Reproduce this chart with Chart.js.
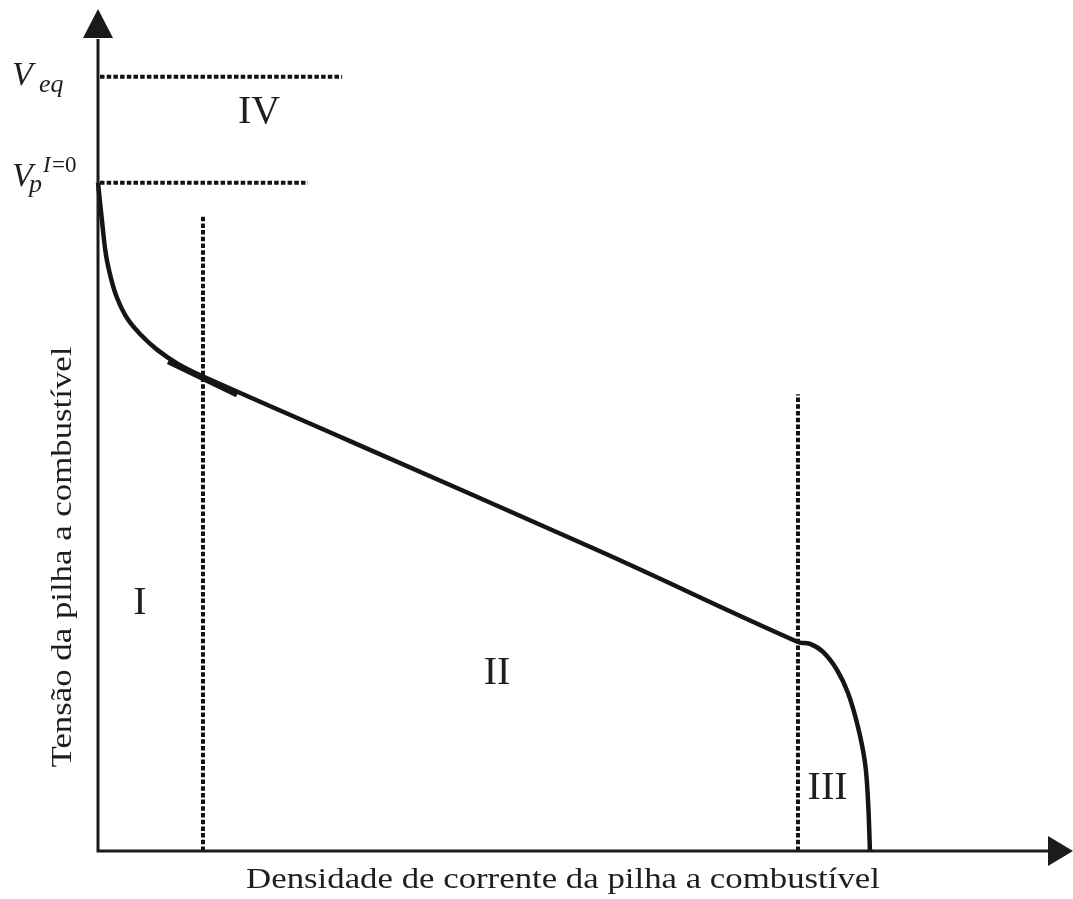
<!DOCTYPE html>
<html lang="pt">
<head>
  <meta charset="UTF-8">
  <title>Curva de polarização</title>
  <script src="https://cdn.jsdelivr.net/npm/chart.js"></script>
  <style>
    html, body {
      margin: 0;
      padding: 0;
      background: #ffffff;
    }
    #wrap {
      width: 1073px;
      height: 899px;
    }
  </style>
</head>
<body>

<div id="wrap">
  <canvas id="polarizacao" width="1073" height="899"></canvas>
</div>

<script>
  // Curva de polarização (unidades arbitrárias, 0-100 em cada eixo)
  const densidade = [0, 0.42, 0.84, 1.37, 2.0, 3.05, 4.53, 6.21, 8.32, 10.84, 26.53, 52.84,
    73.68, 74.95, 76.32, 77.79, 78.95, 80.0, 80.74, 81.05, 81.26];
  const tensao = [82.5, 77.8, 73.6, 70.7, 68.3, 65.8, 63.7, 61.9, 60.2, 58.7, 50.6, 37.0,
    25.8, 25.56, 24.57, 22.35, 19.5, 15.3, 10.86, 6.3, 0];

  // pequeno trecho tangente sobreposto à curva
  const tangenteX = [7.37, 14.63];
  const tangenteY = [60.4, 56.3];

  // níveis de tensão e limites das regiões
  const vEq = 95.6;
  const vPilha = 82.5;
  const limiteI = 11.05;
  const limiteII = 73.68;

  const regioes = ['I', 'II', 'III', 'IV'];
  const regioesX = [4.42, 42.0, 76.8, 16.95];
  const regioesY = [29.3, 20.6, 6.4, 89.9];

  const tituloX = 'Densidade de corrente da pilha a combustível';
  const tituloY = 'Tensão da pilha a combustível';

  const pontos = (xs, ys) => xs.map((x, i) => ({ x: x, y: ys[i] }));

  const tracejado = {
    showLine: true,
    borderColor: '#111111',
    borderWidth: 4,
    borderDash: [4.5, 2.2],
    borderCapStyle: 'butt',
    pointRadius: 0,
    fill: false,
    clip: false
  };

  // texto um pouco mais largo que a fonte serifada normal
  function textoLargo(ctx, txt, x, y, angulo) {
    ctx.save();
    ctx.translate(x, y);
    ctx.rotate(angulo);
    ctx.scale(1.2, 1);
    ctx.fillText(txt, 0, 0);
    ctx.restore();
  }

  // eixos com setas, letras das regiões e rótulos V
  const desenho = {
    id: 'desenho',
    afterDatasetsDraw(chart) {
      const ctx = chart.ctx;
      const a = chart.chartArea;
      const sx = chart.scales.x;
      const sy = chart.scales.y;
      ctx.save();

      // eixos
      ctx.strokeStyle = '#1c1a1a';
      ctx.fillStyle = '#1c1a1a';
      ctx.lineWidth = 3;
      ctx.beginPath();
      ctx.moveTo(a.left, a.top - 2);
      ctx.lineTo(a.left, a.bottom);
      ctx.lineTo(a.right + 2, a.bottom);
      ctx.stroke();

      ctx.beginPath();
      ctx.moveTo(a.left, a.top - 32);
      ctx.lineTo(a.left - 15, a.top - 3);
      ctx.lineTo(a.left + 15, a.top - 3);
      ctx.closePath();
      ctx.fill();

      ctx.beginPath();
      ctx.moveTo(a.right + 25, a.bottom);
      ctx.lineTo(a.right, a.bottom - 15);
      ctx.lineTo(a.right, a.bottom + 15);
      ctx.closePath();
      ctx.fill();

      // regiões I a IV
      ctx.fillStyle = '#1e1e1e';
      ctx.font = '40px "Liberation Serif"';
      ctx.textAlign = 'center';
      ctx.textBaseline = 'alphabetic';
      regioes.forEach((r, i) => {
        ctx.fillText(r, sx.getPixelForValue(regioesX[i]), sy.getPixelForValue(regioesY[i]));
      });

      // títulos dos eixos
      ctx.font = '29px "Liberation Serif"';
      textoLargo(ctx, tituloX, 563, a.bottom + 37, 0);
      textoLargo(ctx, tituloY, 71, 557, -Math.PI / 2);

      // V_eq e V_p^(I=0)
      ctx.textAlign = 'left';
      const yEq = sy.getPixelForValue(vEq);
      ctx.font = 'italic 34px "Liberation Serif"';
      ctx.fillText('V', 12, yEq + 8);
      ctx.font = 'italic 26px "Liberation Serif"';
      ctx.fillText('eq', 39, yEq + 15);

      const yP = sy.getPixelForValue(vPilha);
      ctx.font = 'italic 34px "Liberation Serif"';
      ctx.fillText('V', 12, yP + 3);
      ctx.font = 'italic 26px "Liberation Serif"';
      ctx.fillText('p', 29, yP + 9);
      ctx.font = 'italic 23px "Liberation Serif"';
      ctx.fillText('I', 43, yP - 11);
      ctx.font = '23px "Liberation Serif"';
      ctx.fillText('=0', 52, yP - 11);

      ctx.restore();
    }
  };

  new Chart(document.getElementById('polarizacao'), {
    type: 'scatter',
    data: {
      datasets: [
        {
          label: 'Curva',
          data: pontos(densidade, tensao),
          showLine: true,
          borderColor: '#151515',
          borderWidth: 4.5,
          tension: 0.4,
          pointRadius: 0,
          clip: false
        },
        {
          label: 'Tangente',
          data: pontos(tangenteX, tangenteY),
          showLine: true,
          borderColor: '#151515',
          borderWidth: 5,
          pointRadius: 0,
          clip: false
        },
        Object.assign({ label: 'Veq', data: [{ x: 0.21, y: vEq }, { x: 25.7, y: vEq }] }, tracejado),
        Object.assign({ label: 'Vp', data: [{ x: 0.21, y: vPilha }, { x: 22.1, y: vPilha }] }, tracejado),
        Object.assign({ label: 'Limite I', data: [{ x: limiteI, y: 0 }, { x: limiteI, y: 78.3 }] }, tracejado),
        Object.assign({ label: 'Limite II', data: [{ x: limiteII, y: 0 }, { x: limiteII, y: 56.4 }] }, tracejado)
      ]
    },
    options: {
      responsive: false,
      animation: false,
      layout: {
        padding: { left: 98, right: 25, top: 41, bottom: 48 }
      },
      scales: {
        x: { type: 'linear', min: 0, max: 100, display: false },
        y: { type: 'linear', min: 0, max: 100, display: false }
      },
      plugins: {
        legend: { display: false },
        tooltip: { enabled: false }
      }
    },
    plugins: [desenho]
  });
</script>

</body>
</html>
